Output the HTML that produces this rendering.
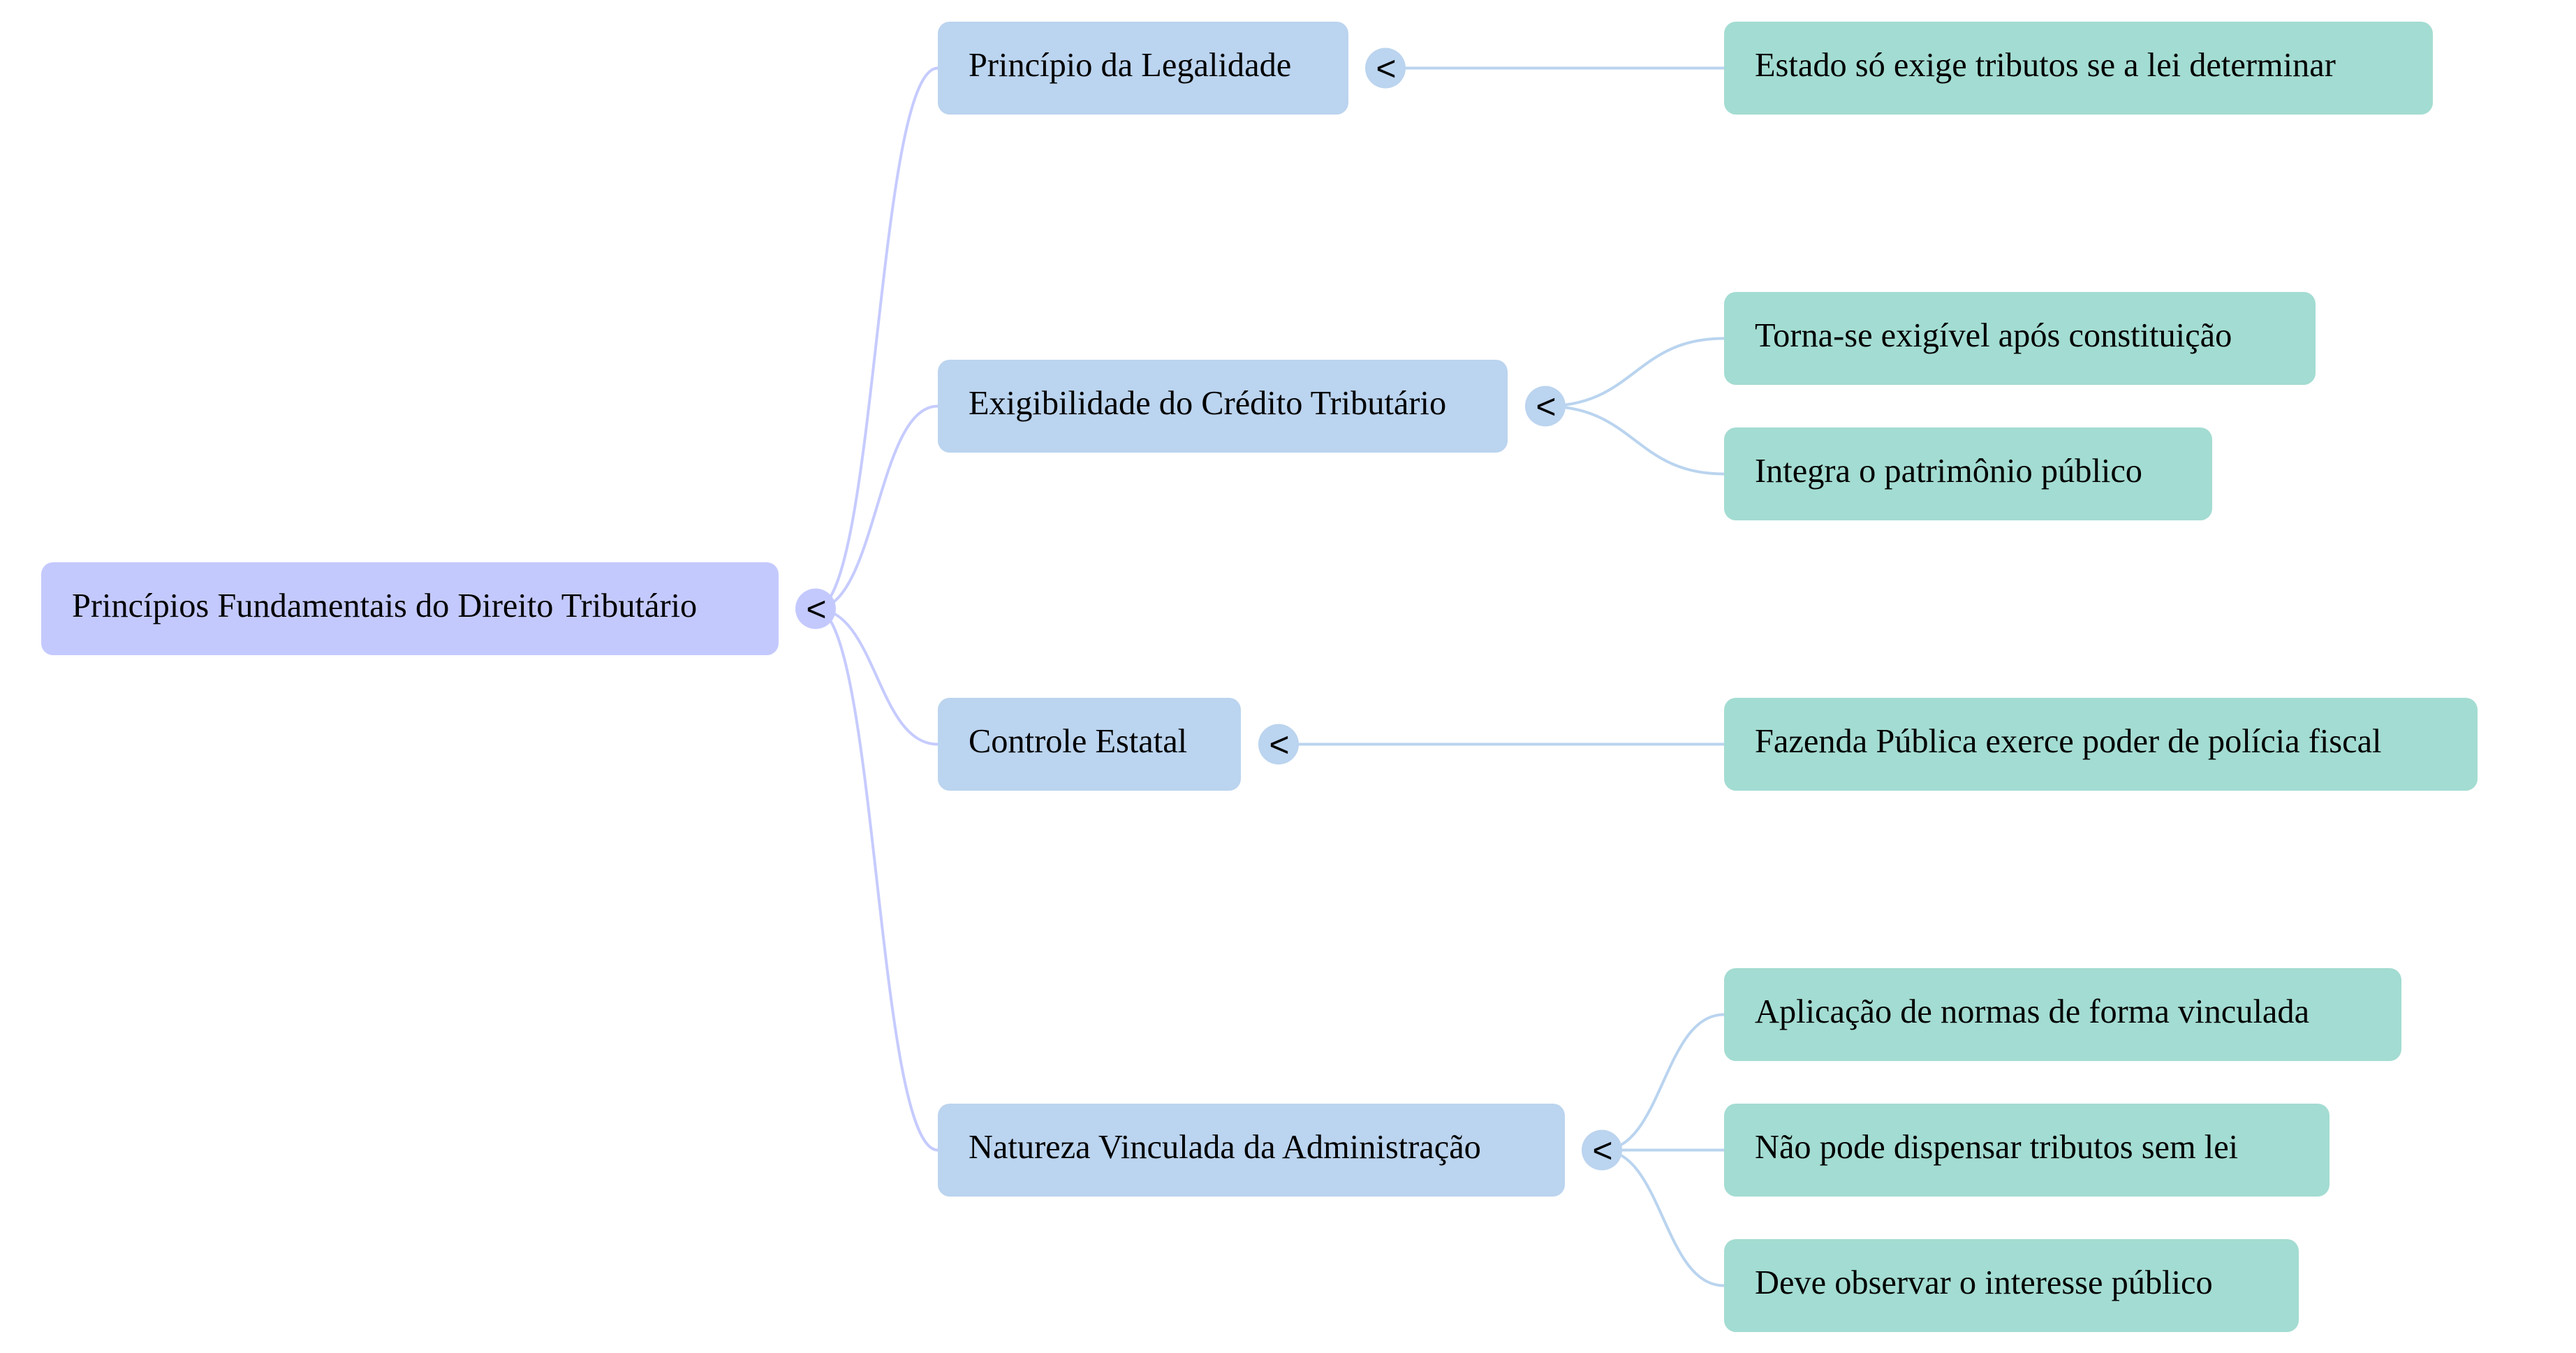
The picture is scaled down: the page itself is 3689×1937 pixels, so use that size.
<!DOCTYPE html>
<html>
<head>
<meta charset="utf-8">
<style>
  html, body { margin: 0; padding: 0; background: #ffffff; }
  svg { display: block; }
  .lbl { font-family: "Liberation Serif", "Times New Roman", serif; font-size: 48.4px; fill: #000; }
  .tog { font-family: "Liberation Sans", Arial, sans-serif; font-size: 50px; fill: #000; text-anchor: middle; }
</style>
</head>
<body>
<svg width="3689" height="1937" viewBox="0 0 3689 1937" xmlns="http://www.w3.org/2000/svg">
  <rect x="0" y="0" width="3689" height="1937" fill="#ffffff"/>

  <!-- Root connectors -->
  <g fill="none" stroke="#c6cbfe" stroke-width="4">
    <path d="M1168,871.5 C1255.5,871.5 1255.5,97.5 1343,97.5"/>
    <path d="M1168,871.5 C1255.5,871.5 1255.5,581.5 1343,581.5"/>
    <path d="M1168,871.5 C1255.5,871.5 1255.5,1065.5 1343,1065.5"/>
    <path d="M1168,871.5 C1255.5,871.5 1255.5,1646.5 1343,1646.5"/>
  </g>

  <!-- Level 1 connectors -->
  <g fill="none" stroke="#bad4ef" stroke-width="4">
    <path d="M1984,97.5 L2469,97.5"/>
    <path d="M2213,581.5 C2341,581.5 2341,484.5 2469,484.5"/>
    <path d="M2213,581.5 C2341,581.5 2341,678.5 2469,678.5"/>
    <path d="M1831,1065.5 L2469,1065.5"/>
    <path d="M2294,1646.5 C2381.5,1646.5 2381.5,1452.5 2469,1452.5"/>
    <path d="M2294,1646.5 L2469,1646.5"/>
    <path d="M2294,1646.5 C2381.5,1646.5 2381.5,1840.5 2469,1840.5"/>
  </g>

  <!-- Root node -->
  <rect x="59" y="805" width="1056" height="133" rx="17" ry="17" fill="#c4c9fd"/>
  <text class="lbl" x="103" y="883">Princípios Fundamentais do Direito Tributário</text>
  <circle cx="1168" cy="871.5" r="29" fill="#c4c9fd"/>
  <text class="tog" x="1169" y="889">&lt;</text>

  <!-- Level 1 nodes -->
  <rect x="1343" y="31" width="588" height="133" rx="17" ry="17" fill="#bbd4ef"/>
  <text class="lbl" x="1387" y="109">Princípio da Legalidade</text>
  <circle cx="1984" cy="97.5" r="29" fill="#bbd4ef"/>
  <text class="tog" x="1985" y="115">&lt;</text>

  <rect x="1343" y="515" width="816" height="133" rx="17" ry="17" fill="#bbd4ef"/>
  <text class="lbl" x="1387" y="593">Exigibilidade do Crédito Tributário</text>
  <circle cx="2213" cy="581.5" r="29" fill="#bbd4ef"/>
  <text class="tog" x="2214" y="599">&lt;</text>

  <rect x="1343" y="999" width="434" height="133" rx="17" ry="17" fill="#bbd4ef"/>
  <text class="lbl" x="1387" y="1077">Controle Estatal</text>
  <circle cx="1831" cy="1065.5" r="29" fill="#bbd4ef"/>
  <text class="tog" x="1832" y="1083">&lt;</text>

  <rect x="1343" y="1580" width="898" height="133" rx="17" ry="17" fill="#bbd4ef"/>
  <text class="lbl" x="1387" y="1658">Natureza Vinculada da Administração</text>
  <circle cx="2294" cy="1646.5" r="29" fill="#bbd4ef"/>
  <text class="tog" x="2295" y="1664">&lt;</text>

  <!-- Level 2 nodes -->
  <rect x="2469" y="31" width="1015" height="133" rx="17" ry="17" fill="#a3dcd2"/>
  <text class="lbl" x="2513" y="109">Estado só exige tributos se a lei determinar</text>

  <rect x="2469" y="418" width="847" height="133" rx="17" ry="17" fill="#a3dcd2"/>
  <text class="lbl" x="2513" y="496">Torna-se exigível após constituição</text>

  <rect x="2469" y="612" width="699" height="133" rx="17" ry="17" fill="#a3dcd2"/>
  <text class="lbl" x="2513" y="690">Integra o patrimônio público</text>

  <rect x="2469" y="999" width="1079" height="133" rx="17" ry="17" fill="#a3dcd2"/>
  <text class="lbl" x="2513" y="1077">Fazenda Pública exerce poder de polícia fiscal</text>

  <rect x="2469" y="1386" width="970" height="133" rx="17" ry="17" fill="#a3dcd2"/>
  <text class="lbl" x="2513" y="1464">Aplicação de normas de forma vinculada</text>

  <rect x="2469" y="1580" width="867" height="133" rx="17" ry="17" fill="#a3dcd2"/>
  <text class="lbl" x="2513" y="1658">Não pode dispensar tributos sem lei</text>

  <rect x="2469" y="1774" width="823" height="133" rx="17" ry="17" fill="#a3dcd2"/>
  <text class="lbl" x="2513" y="1852">Deve observar o interesse público</text>
</svg>
</body>
</html>
